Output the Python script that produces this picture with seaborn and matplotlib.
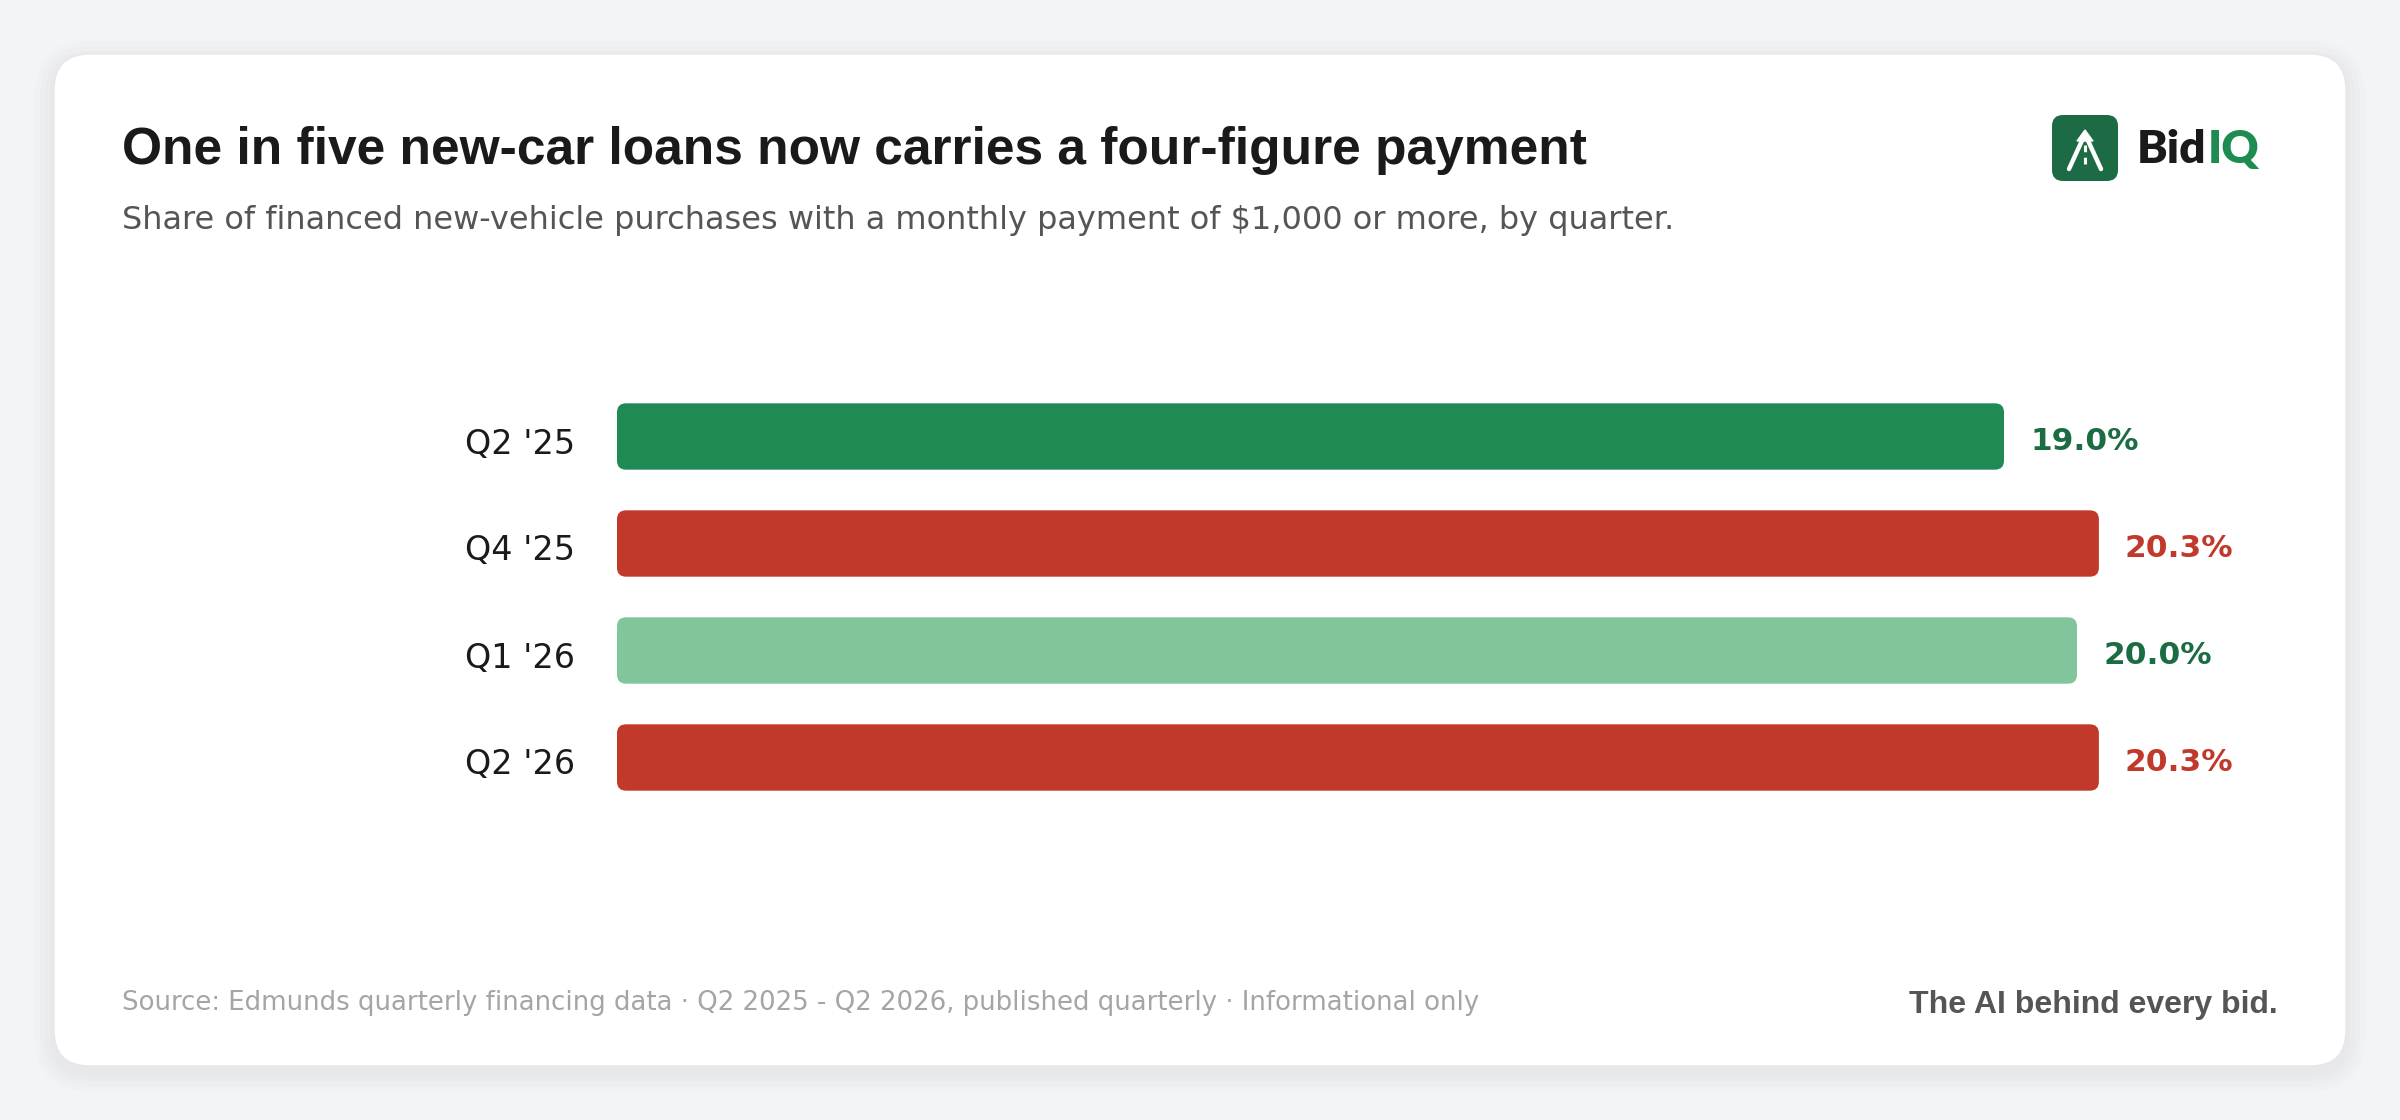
#!/usr/bin/env python3
"""
Share of new-car loans with a $1,000+ monthly payment, by quarter.
"""
import matplotlib
matplotlib.use("Agg")
import matplotlib.pyplot as plt
import matplotlib.transforms as mtransforms
import pandas as pd
import seaborn as sns
from matplotlib.patches import FancyBboxPatch, Polygon

# data
quarters = ["Q2 '25", "Q4 '25", "Q1 '26", "Q2 '26"]
share_pct = [19.0, 20.3, 20.0, 20.3]
bar_colors = ["#1f8a53", "#c0392b", "#82c49c", "#c0392b"]
label_colors = ["#1b6b43", "#c0392b", "#1b6b43", "#c0392b"]

title = "One in five new-car loans now carries a four-figure payment"
subtitle = "Share of financed new-vehicle purchases with a monthly payment of $1,000 or more, by quarter."
source = "Source: Edmunds quarterly financing data \u00b7 Q2 2025 - Q2 2026, published quarterly \u00b7 Informational only"
tagline = "The AI behind every bid."

W, H = 2400, 1120
sns.set_theme(style="white")
plt.rcParams['font.family'] = ['DejaVu Sans']

fig = plt.figure(figsize=(W / 100, H / 100), dpi=100)
fig.patch.set_facecolor("#f3f4f6")

# background layer in pixel coordinates
bg = fig.add_axes([0, 0, 1, 1], zorder=0)
bg.set_xlim(0, W)
bg.set_ylim(H, 0)
bg.axis("off")

# soft shadow and card
for i in range(4):
    g = 4 + i * 5
    bg.add_patch(FancyBboxPatch((54 - g, 54 - g + 6), 2292 + 2 * g, 1012 + 2 * g,
                                boxstyle=f"round,pad=0,rounding_size={36 + g}",
                                fc="#000000", ec="none", alpha=0.012))
bg.add_patch(FancyBboxPatch((54, 54), 2292, 1012, boxstyle="round,pad=0,rounding_size=36",
                            fc="white", ec="#e6e7ea", lw=1))

bg.text(122, 164, title, fontsize=37.1, fontweight="bold", color="#1a1a1a",
        family="Liberation Sans", va="baseline", ha="left")
bg.text(122, 229, subtitle, fontsize=23, color="#555555", va="baseline", ha="left")
bg.text(122, 1010, source, fontsize=18.7, color="#a3a6a4", va="baseline", ha="left")
bg.text(2278, 1013, tagline, fontsize=23, fontweight="bold", color="#555555",
        family="Liberation Sans", va="baseline", ha="right")

# logo
bg.add_patch(FancyBboxPatch((2052, 115), 66, 66, boxstyle="round,pad=0,rounding_size=11",
                            fc="#1d6b45", ec="none"))
bg.plot([2085, 2069], [134, 169], color="white", lw=3.2, solid_capstyle="round")
bg.plot([2085, 2101], [134, 169], color="white", lw=3.2, solid_capstyle="round")
bg.add_patch(Polygon([(2085, 130), (2077, 141), (2093, 141)], closed=True, fc="white", ec="white", lw=1))
bg.plot([2085, 2085], [145, 168], color="white", lw=2.2, dashes=(2.2, 1.8))
t = bg.text(2137, 163, "Bid", fontsize=33, fontweight="heavy", color="#1a1a1a",
            family="Lato", va="baseline", ha="left")
fig.canvas.draw()
bb = t.get_window_extent()
bg.text(2137 + bb.width + 1, 163, "IQ", fontsize=33, fontweight="heavy", color="#1e8c50",
        family="Lato", va="baseline", ha="left")

# bar chart
df = pd.DataFrame({"quarter": quarters, "share": share_pct})
left_px, right_px = 617, 2345
top_px, bot_px = 383, 811
ax = fig.add_axes([left_px / W, 1 - bot_px / H, (right_px - left_px) / W, (bot_px - top_px) / H], zorder=2)
ax.set_facecolor("none")
sns.barplot(data=df, x="share", y="quarter", hue="quarter", palette=bar_colors,
            order=quarters, hue_order=quarters, width=0.62, saturation=1,
            legend=False, ax=ax)
ax.set_ylim(3.5, -0.5)
px_per_unit = 73.0
ax.set_xlim(0, (right_px - left_px) / px_per_unit)

# swap rectangles for rounded bars
aspect = px_per_unit / ((bot_px - top_px) / 4)
rects = list(ax.patches)
for r in rects:
    x, y, w, h = r.get_x(), r.get_y(), r.get_width(), r.get_height()
    fc = r.get_facecolor()
    r.remove()
    ax.add_patch(FancyBboxPatch((x, y), w, h, boxstyle=f"round,pad=0,rounding_size={9 / px_per_unit}",
                                mutation_aspect=aspect, fc=fc, ec="none"))

y_shift = 2 / ((bot_px - top_px) / 4)
for i, (v, c) in enumerate(zip(share_pct, label_colors)):
    ax.text(v + 26 / px_per_unit, i + y_shift, f"{v:.1f}%", fontsize=22.5, fontweight="bold",
            color=c, va="center_baseline", ha="left")

ax.set_xlabel("")
ax.set_ylabel("")
ax.set_xticks([])
ax.tick_params(axis="y", length=0, pad=30.5, labelsize=24, labelcolor="#1a1a1a")
nudge = mtransforms.ScaledTranslation(0, -0.04, fig.dpi_scale_trans)
for lbl in ax.get_yticklabels():
    lbl.set_transform(lbl.get_transform() + nudge)
for s in ax.spines.values():
    s.set_visible(False)

fig.savefig("out.png", dpi=100, facecolor=fig.get_facecolor())
